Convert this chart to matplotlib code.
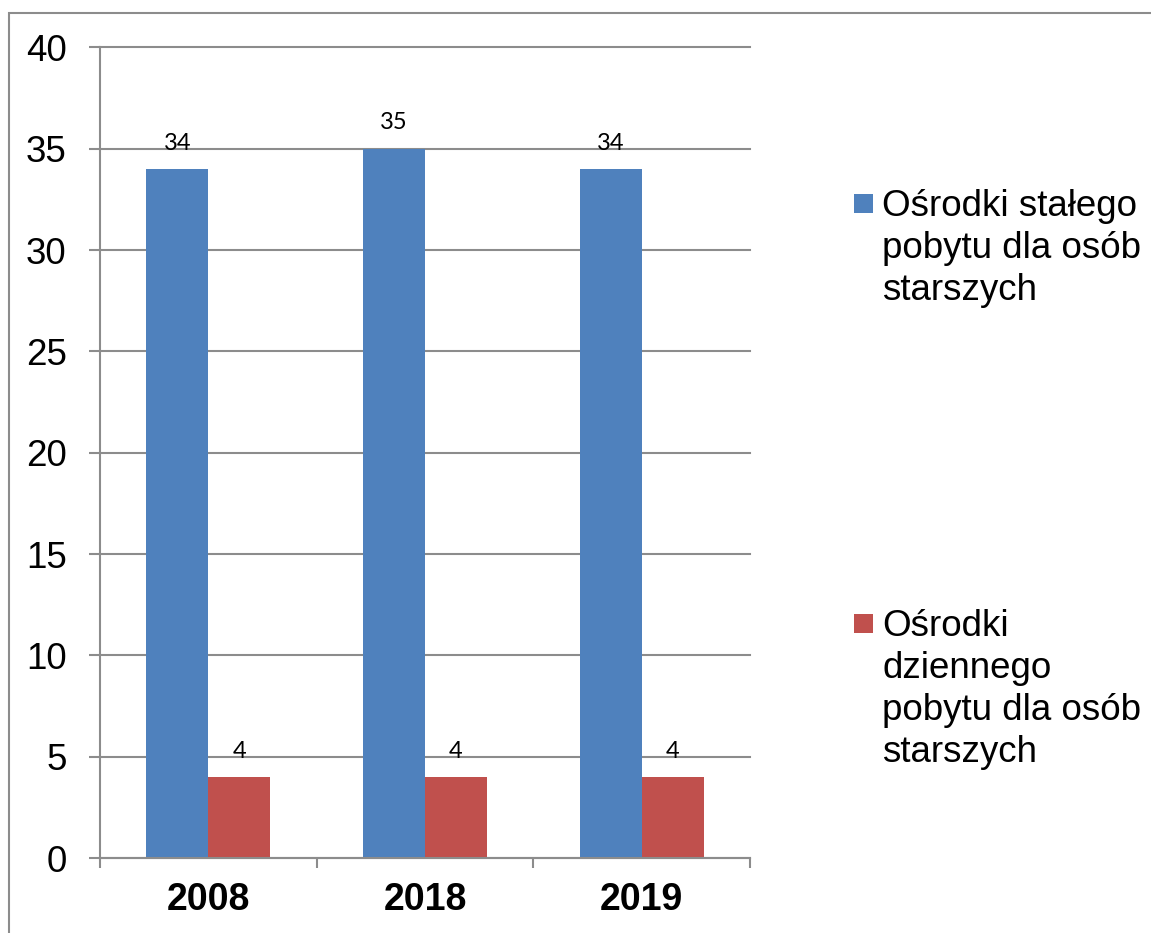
import matplotlib
matplotlib.use("Agg")
import matplotlib.pyplot as plt
from matplotlib.patches import Rectangle
import numpy as np

categories = ["2008", "2018", "2019"]
stalego = [34, 35, 34]
dziennego = [4, 4, 4]
series_names = ["Ośrodki stałego\npobytu dla osób\nstarszych",
                "Ośrodki\ndziennego\npobytu dla osób\nstarszych"]
yticks = [0, 5, 10, 15, 20, 25, 30, 35, 40]

BLUE = "#4F81BD"
RED = "#C0504D"
GRID = "#8C8C8C"

plt.rcParams['font.family'] = ['Liberation Sans', 'DejaVu Sans']

W, H = 1151, 933
fig = plt.figure(figsize=(W / 100, H / 100), dpi=100)
ax = fig.add_axes([100 / W, 75 / H, 650 / W, 810.5 / H])

x = np.arange(len(categories))
w = 0.286
b1 = ax.bar(x - w / 2, stalego, w, color=BLUE, zorder=3)
b2 = ax.bar(x + w / 2, dziennego, w, color=RED, zorder=3)

for bars, vals in ((b1, stalego), (b2, dziennego)):
    for r, v in zip(bars, vals):
        ax.annotate(str(v), (r.get_x() + r.get_width() / 2, r.get_height()),
                    xytext=(0, 14), textcoords="offset points",
                    ha="center", va="baseline", fontsize=17,
                    family=["Lato", "DejaVu Sans"], zorder=4)

ax.set_xlim(-0.5, len(categories) - 0.5)
ax.set_ylim(0, 40)
ax.set_yticks(yticks)
ax.set_yticklabels([str(t) for t in yticks], fontsize=26.5)
ax.set_xticks(x)
ax.set_xticklabels(categories, fontsize=27, fontweight="bold")
ax.set_xticks(np.arange(-0.5, len(categories)), minor=True)
ax.tick_params(axis="x", which="major", length=0, pad=17)
ax.tick_params(axis="x", which="minor", length=7.5, width=1.5, color=GRID, direction="out")
ax.tick_params(axis="y", which="major", length=8, width=1.5, color=GRID, pad=16)

ax.yaxis.grid(True, color=GRID, linewidth=1.5, zorder=0)
for gl in ax.get_ygridlines():
    gl.set_clip_on(False)
ax.set_axisbelow(True)
for s in ("top", "right"):
    ax.spines[s].set_visible(False)
for s in ("left", "bottom"):
    ax.spines[s].set_color(GRID)
    ax.spines[s].set_linewidth(1.5)
ax.spines["bottom"].set_zorder(5)

# outer frame
fig.patches.append(Rectangle((9 / W, -0.2), 1.5, (H - 13) / H + 0.2,
                             transform=fig.transFigure, fill=False,
                             edgecolor="#8C8C8C", linewidth=1.5))

# legend (manual, entries far apart)
STEP = 42
for color, label, base in ((BLUE, series_names[0], 216), (RED, series_names[1], 636)):
    n = label.count("\n")
    fig.patches.append(Rectangle((854 / W, 1 - (base - 3) / H), 19 / W, 19 / H,
                                 transform=fig.transFigure, facecolor=color,
                                 edgecolor="none"))
    fig.text(882 / W, 1 - (base + n * STEP) / H, label, fontsize=26.5,
             ha="left", va="baseline", linespacing=1.26)

fig.savefig("out.png", dpi=100)
